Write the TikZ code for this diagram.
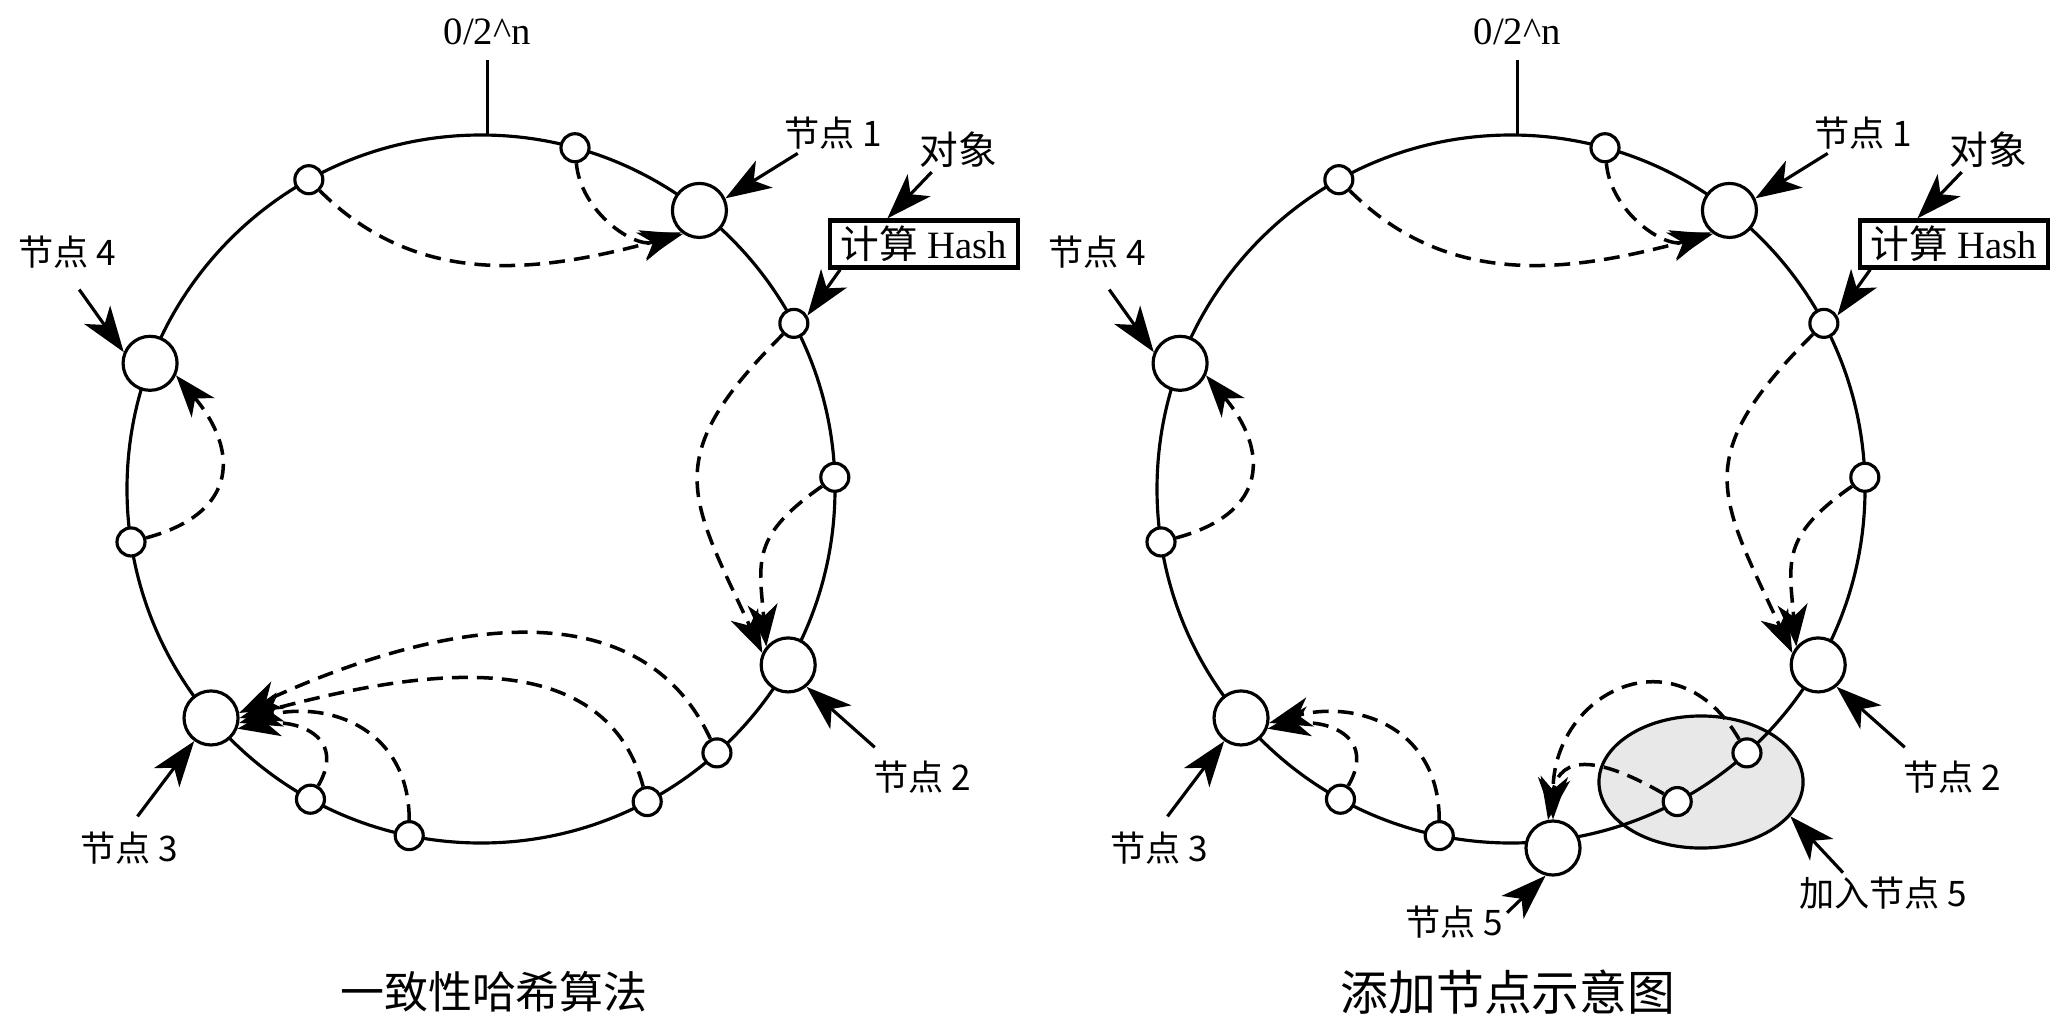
\documentclass[tikz,border=0pt]{standalone}
\usepackage{fontspec}
\setmainfont{Liberation Serif}
\newfontfamily\cjk{Noto Sans CJK SC}
\usetikzlibrary{shapes.geometric, positioning, arrows.meta}

\begin{document}
\begin{tikzpicture}[x=0.01cm, y=0.01cm,
    ring/.style={line width=0.9pt},
    slot/.style={circle, draw, line width=0.9pt, fill=white,
                 inner sep=0pt, minimum size=0.28cm},
    server/.style={circle, draw, line width=0.9pt, fill=white,
                   inner sep=0pt, minimum size=0.54cm},
    tag/.style={font=\cjk\fontsize{10}{12}\selectfont, inner sep=1pt},
    pointer/.style={line width=0.9pt,
                    -{Stealth[length=13pt, width=9pt, inset=3.5pt]}},
    remap/.style={line width=1pt, dash pattern=on 4.5pt off 2.6pt,
                  -{Stealth[length=12pt, width=8.5pt, inset=3.5pt]}}
  ]
  \useasboundingbox (0,0) rectangle (2052,1020);

  % Node 5 joins the right ring here
  \node[ellipse, draw, line width=0.9pt, fill=gray!18,
        minimum width=2.04cm, minimum height=1.32cm] (zone) at (1701,238) {};

  % Both rings
  \foreach \s/\cx in {L/481, R/1511}{
    \begin{scope}[shift={(\cx,531)}]
      \draw[ring] (0,0) circle [radius=354];
      \draw[ring] (89:354) -- ++(0,75)
        node[above=4pt, inner sep=0pt, font=\fontsize{11}{12}\selectfont] {0/2\textasciicircum n};

      % servers on the ring
      \node[server] (\s n1) at (51.9:354) {};
      \node[server] (\s n2) at (-29.8:354) {};
      \node[server] (\s n3) at (220.3:354) {};
      \node[server] (\s n4) at (159.2:354) {};

      % hashed objects
      \foreach \k/\ang in {a/119.1, b/74.6, c/27.9, d/1.9, e/-48.2,
                           f/-62, g/241.2, h/258.3, l/188.6}
        \node[slot] (\s\k) at (\ang:354) {};

      % labels
      \node[tag] (\s t1) at (352,356) {节点 1};
      \node[tag] (\s t2) at (441,-288) {节点 2};
      \node[tag] (\s t3) at (-352,-359) {节点 3};
      \node[tag] (\s t4) at (-414,237) {节点 4};
      \node[tag, font=\cjk\fontsize{11}{13}\selectfont] (\s obj) at (477,339) {对象};
      \node[draw, line width=1.2pt, inner sep=1pt, minimum width=1.88cm,
            minimum height=0.47cm, font=\fontsize{11}{12}\selectfont]
            (\s box) at (443,245) {{\cjk 计算} Hash};

      \draw[pointer] (\s t1.210) -- (\s n1.25);
      \draw[pointer, shorten <=6pt] (\s t4.south) -- (\s n4.157);
      \draw[pointer, shorten <=4pt] (\s t2.151) -- (\s n2.-50);
      \draw[pointer, shorten <=4pt] (\s t3.north) -- (\s n3.234);
      \draw[pointer] (\s obj.220) -- (\s box.145);
      \draw[pointer] (\s box.197) -- (\s c.30);

      % objects go on to the next server
      \draw[remap] (\s a) to[out=-45, in=195] (\s n1.235);
      \draw[remap] (\s b) to[out=-85, in=200] (\s n1.230);
      \draw[remap] (\s c) to[out=225, in=115, looseness=1.4] (\s n2.155);
      \draw[remap] (\s d) to[out=215, in=95, looseness=1.3] (\s n2.140);
      \draw[remap] (\s l) to[out=15, in=-50, looseness=1.5] (\s n4.-25);
      \draw[remap] (\s g) to[out=60, in=10, looseness=1.5] (\s n3.-22);
      \draw[remap] (\s h) to[out=90, in=15, looseness=1.2] (\s n3.-10);
    \end{scope}
  }

  % left ring: e and f still go to node 3
  \draw[remap] (Le) to[out=115, in=25] (Ln3.10);
  \draw[remap] (Lf) to[out=105, in=15] (Ln3.0);

  % right ring: node 5 takes them over
  \node[server] (Rn5) at (1553,172) {};
  \draw[remap] (Re) to[out=120, in=90, looseness=1.6] (Rn5.north);
  \draw[remap] (Rf) to[out=150, in=80, looseness=1.5] (Rn5.100);
  \node[tag] (t5) at (1454,98) {节点 5};
  \node[tag] (join) at (1883,127) {加入节点 5};
  \draw[pointer] (t5.10) -- (Rn5.255);
  \draw[pointer] (join.153) -- (zone.-21);

  % captions
  \node[font=\cjk\fontsize{12.5}{14}\selectfont] (capL) at (494,28) {一致性哈希算法};
  \node[font=\cjk\fontsize{13.6}{15}\selectfont] (capR) at (1508,28) {添加节点示意图};
\end{tikzpicture}
\end{document}
